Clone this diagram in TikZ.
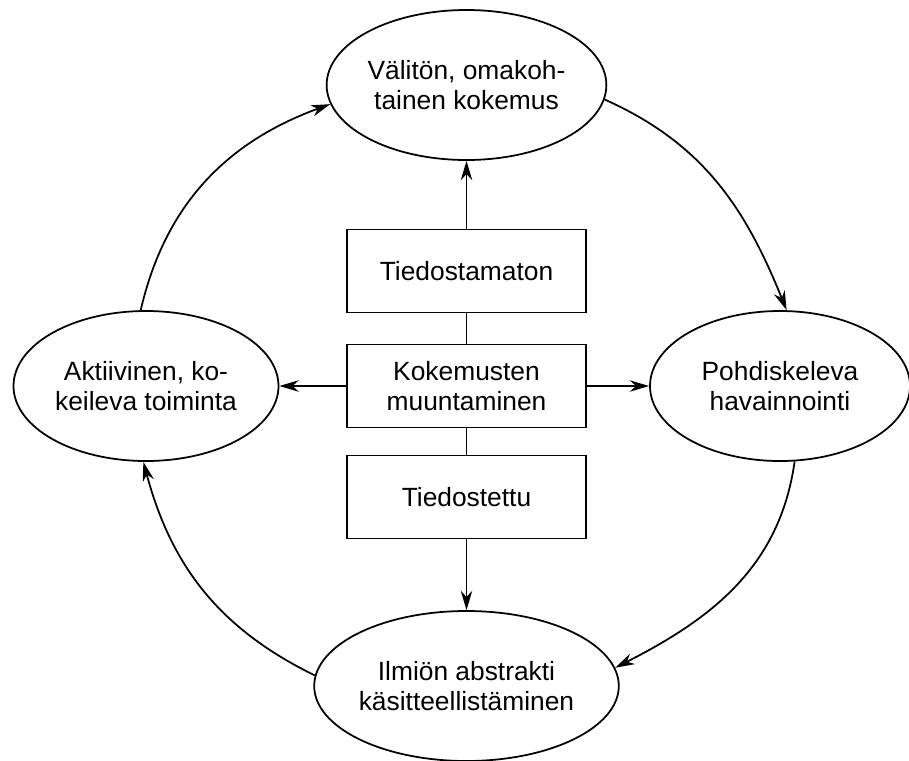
\documentclass[tikz,border=0pt]{standalone}
\usepackage{fontspec}
\setmainfont{Liberation Sans}
\usetikzlibrary{arrows.meta,shapes.geometric}

\begin{document}
\begin{tikzpicture}[
    line width=1pt,
    vaihe/.style={draw,ellipse,minimum width=5.3cm,minimum height=3cm,inner sep=0pt,align=center,font=\fontsize{15}{17}\selectfont},
    laatikko/.style={draw,rectangle,minimum width=4.78cm,minimum height=1.66cm,align=center,font=\fontsize{15}{17}\selectfont},
    nuoli/.style={-{Stealth[length=11pt,width=6.5pt,inset=3.5pt]}}]
    \useasboundingbox (0,0) rectangle (18.18,-15.2);

    % oppimisen vaiheet
    \node[vaihe] (kokemus) at (9.33,-1.70) {Välitön, omakoh-\\tainen kokemus};
    \node[vaihe,minimum width=5.2cm] (havainnointi) at (15.60,-7.72) {Pohdiskeleva\\havainnointi};
    \node[vaihe] (kasitteet) at (9.33,-13.72) {Ilmiön abstrakti\\käsitteellistäminen};
    \node[vaihe] (toiminta) at (2.92,-7.72) {Aktiivinen, ko-\\keileva toiminta};

    % keskimmäiset laatikot
    \node[laatikko] (tiedostamaton) at (9.33,-5.42) {Tiedostamaton};
    \node[laatikko] (muuntaminen) at (9.33,-7.72) {Kokemusten\\muuntaminen};
    \node[laatikko] (tiedostettu) at (9.33,-9.94) {Tiedostettu};

    \draw (tiedostamaton) -- (muuntaminen);
    \draw (muuntaminen) -- (tiedostettu);
    \draw[nuoli] (tiedostamaton) -- (kokemus);
    \draw[nuoli] (tiedostettu) -- (kasitteet);
    \draw[nuoli] (muuntaminen) -- (toiminta);
    \draw[nuoli] (muuntaminen) -- (havainnointi);

    % kehä
    \draw[nuoli] (toiminta.94) to[out=77,in=200] (kokemus.188);
    \draw[nuoli] (kokemus.354) to[out=-24,in=112] (havainnointi.85);
    \draw[nuoli] (havainnointi.281) to[out=-98,in=27] (kasitteet.7);
    \draw[nuoli] (kasitteet.176) to[out=154,in=-75] (toiminta.268);
  \end{tikzpicture}
\end{document}
